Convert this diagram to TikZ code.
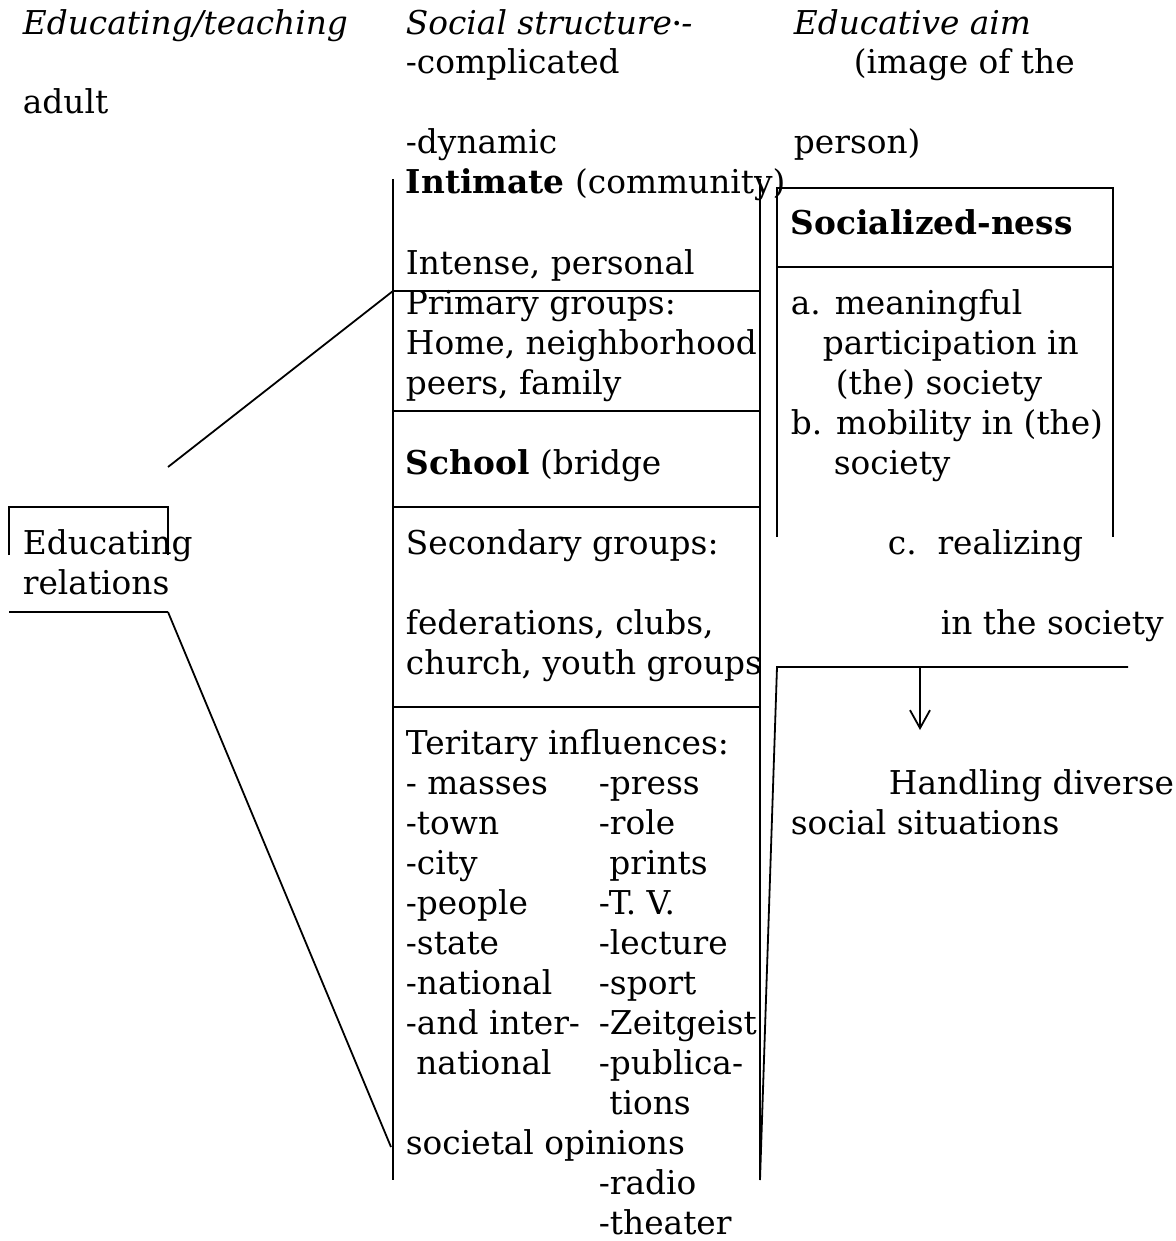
\documentclass[tikz,border=0pt]{standalone}
\usepackage{fontspec}
\setmainfont{DejaVu Serif}
\usetikzlibrary{arrows.meta}

\tikzset{
  txt/.style={anchor=base west, inner sep=0pt},
  hd/.style={txt, font=\itshape},
}

\begin{document}
\fontsize{16.4}{20}\selectfont
\begin{tikzpicture}[x=0.5pt, y=-0.5pt, line width=0.9pt]
				\useasboundingbox (0,3) rectangle (1175,1244);

				% headings
				\node[hd] (adulthd) at (22,38) {Educating/teaching};
				\node[hd] (structhd) at (405,38) {Social structure\raisebox{0.35ex}{\fontsize{8}{8}\selectfont •}-};
				\node[hd] (aimhd) at (793,38) {Educative aim};
				\node[txt] (adult) at (22,117) {adult};
				\node[txt] (compl) at (405,77) {-complicated};
				\node[txt] (dyn) at (405,157) {-dynamic};
				\node[txt] (img) at (853,77) {(image of the};
				\node[txt] (pers) at (793,157) {person)};

				% middle column
				\coordinate (mtl) at (393,182);
				\coordinate (mtr) at (760,182);
				\coordinate (mbl) at (393,1183);
				\coordinate (mbr) at (760,1183);
				\draw (mtl) -- (mbl);
				\draw (mtr) -- (mbr);
				\foreach \y in {294,414,510,710}
					\draw (393,\y) -- (760,\y);

				\node[txt] (intim) at (405,197) {\textbf{Intimate} (community)};
				\node[txt] (intense) at (405,277) {Intense, personal};
				\node[txt] (prim) at (405,317) {Primary groups:};
				\node[txt] at (405,357) {Home, neighborhood};
				\node[txt] at (405,397) {peers, family};
				\node[txt] (school) at (405,477) {\textbf{School} (bridge};
				\node[txt] (second) at (405,557) {Secondary groups:};
				\node[txt] at (405,637) {federations, clubs,};
				\node[txt] at (405,677) {church, youth groups};
				\node[txt] (tert) at (405,757) {Teritary influences:};
				\foreach \a/\b [count=\i] in {- masses/-press, -town/-role, -city/{\ prints},
					-people/-T. V., -state/-lecture, -national/-sport, -and inter-/-Zeitgeist,
					{\ national}/-publica-, {}/{\ tions}}
				{
					\node[txt] at (405,757+40*\i) {\a};
					\node[txt] at (598,757+40*\i) {\b};
				}
				\node[txt] (opin) at (405,1157) {societal opinions};
				\node[txt] at (598,1197) {-radio};
				\node[txt] at (598,1237) {-theater};

				% right box
				\draw (777,540) -- (777,191) -- (1113,191) -- (1113,540);
				\draw (777,270) -- (1113,270);
				\node[txt] (soc) at (790,237) {\textbf{Socialized-ness}};
				\node[txt] at (790,317) {a. meaningful};
				\node[txt] at (822,357) {participation in};
				\node[txt] at (835,397) {(the) society};
				\node[txt] at (790,437) {b. mobility in (the)};
				\node[txt] at (833,477) {society};
				\node[txt] at (887,557) {c.\ \ realizing};
				\node[txt] at (940,637) {in the society};
				\node[txt] (handl) at (888,797) {Handling diverse};
				\node[txt] at (790,837) {social situations};

				% left label and its lines
				\draw (9,558) -- (9,510) -- (168,510) -- (168,558);
				\draw (9,615) -- (168,615);
				\node[txt] (rel) at (22,557) {Educating};
				\node[txt] at (22,597) {relations};
				\coordinate (ltop) at (168,470);
				\coordinate (lbot) at (168,615);
				\coordinate (pgrp) at (393,294);
				\coordinate (opn) at (391,1150);
				\draw (ltop) -- (pgrp);
				\draw (lbot) -- (opn);

				% lower right bracket and arrow
				\coordinate (rb) at (777,670);
				\coordinate (re) at (1128,670);
				\coordinate (ra) at (920,670);
				\coordinate (rh) at (920,733);
				\draw (mbr) -- (rb) -- (re);
				\draw[-{Straight Barb[length=9pt,width=10pt]}] (ra) -- (rh);

			\end{tikzpicture}
\end{document}
